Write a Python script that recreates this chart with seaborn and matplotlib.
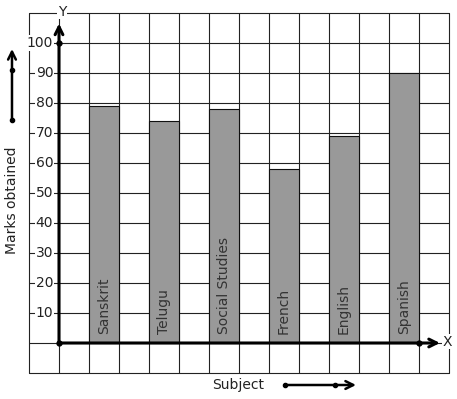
import numpy as np
import seaborn as sns
import matplotlib.pyplot as plt

subjects = ['Sanskrit', 'Telugu', 'Social Studies', 'French', 'English', 'Spanish']
marks = [79, 74, 78, 58, 69, 90]
y_ticks = [10, 20, 30, 40, 50, 60, 70, 80, 90, 100]

sns.set_style('white')
plt.rcParams['font.family'] = ['DejaVu Sans']

fig = plt.figure(figsize=(4.57, 3.99), dpi=100)
ax = fig.add_axes([0, 0, 1, 1])
ax.set_xlim(-59 / 30, 398 / 30)
ax.set_ylim(-56 / 3, 343 / 3)
ax.axis('off')

grid_col = '#222222'
# grid
for gx in range(-1, 14):
    ax.plot([gx, gx], [-10, 110], color=grid_col, lw=0.8, zorder=0)
for gy in range(-10, 111, 10):
    ax.plot([-1, 13], [gy, gy], color=grid_col, lw=0.8, zorder=0)

# bars, one column wide, every other column
pos = [1.5 + 2 * i for i in range(len(subjects))]
sns.barplot(x=pos, y=marks, native_scale=True, width=0.5, color='#999999',
            saturation=1, edgecolor='#111111', linewidth=0.8, ax=ax, zorder=2)
ax.set_xlim(-59 / 30, 398 / 30)
ax.set_ylim(-56 / 3, 343 / 3)

for p, s in zip(pos, subjects):
    ax.text(p, 3, s, rotation=90, ha='center', va='bottom', fontsize=10,
            color='#333333', zorder=3)

# tick labels
for t in y_ticks:
    ax.text(-0.19, t, str(t), ha='right', va='center', fontsize=10,
            color='#222222', zorder=3,
            bbox=dict(fc='white', ec='none', pad=0.6))

# axes with arrows
arr = dict(arrowstyle='->', lw=2.2, color='black', mutation_scale=14,
           shrinkA=0, shrinkB=0)
ax.annotate('', xy=(0, 106.5), xytext=(0, 0), arrowprops=arr, zorder=4)
ax.annotate('', xy=(12.7, 0), xytext=(0, 0), arrowprops=arr, zorder=4)
ax.plot([0, 0, 12], [0, 100, 0], 'o', color='black', ms=3.5, zorder=5)
ax.text(0.1, 110.5, 'Y', ha='center', va='center', fontsize=10,
        color='#222222', zorder=5, bbox=dict(fc='white', ec='none', pad=0.5))
ax.text(12.95, 0.5, 'X', ha='center', va='center', fontsize=10, color='#222222',
        zorder=5, bbox=dict(fc='white', ec='none', pad=0.5))

# side annotations
ax.text(-1.567, 47.7, 'Marks obtained', rotation=90, ha='center', va='center',
        fontsize=10, color='#222222')
arr2 = dict(arrowstyle='->', lw=1.8, color='black', mutation_scale=14,
            shrinkA=0, shrinkB=0)
ax.annotate('', xy=(-1.567, 98), xytext=(-1.567, 74.3), arrowprops=arr2)
ax.plot([-1.567, -1.567], [74.3, 91], 'o', color='black', ms=3)

ax.text(5.97, -14, 'Subject', ha='center', va='center', fontsize=10,
        color='#222222')
ax.annotate('', xy=(9.9, -14), xytext=(7.53, -14), arrowprops=arr2)
ax.plot([7.53, 9.2], [-14, -14], 'o', color='black', ms=3)

fig.savefig('out.png', dpi=100, facecolor='white')
